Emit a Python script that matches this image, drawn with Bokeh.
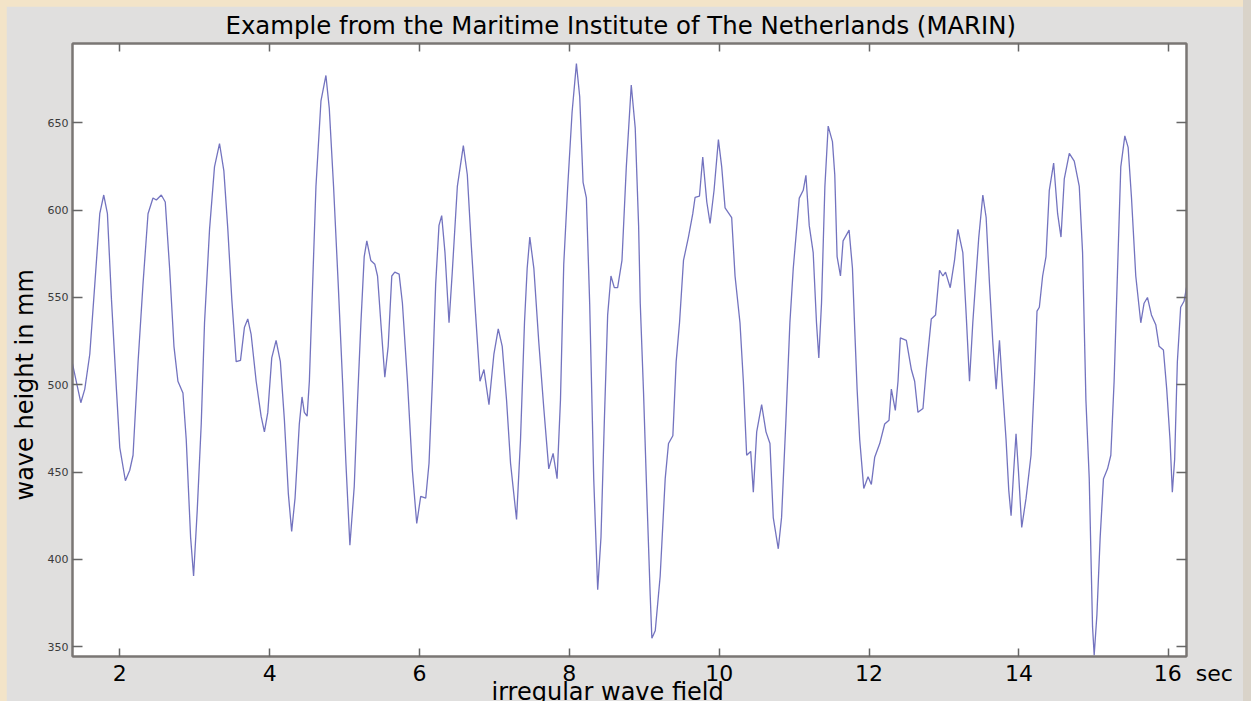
from bokeh.plotting import figure
from bokeh.layouts import column
from bokeh.models import LinearAxis, FixedTicker, Range1d, ColumnDataSource, Title
from bokeh.embed import file_html
from bokeh.resources import INLINE

# ---- data ----
time_s = [
    1.369, 1.480, 1.533, 1.600, 1.667, 1.733, 1.786, 1.835, 1.889, 1.955,
    2.000, 2.075, 2.133, 2.177, 2.244, 2.310, 2.377, 2.443, 2.488, 2.554,
    2.607, 2.665, 2.723, 2.776, 2.843, 2.887, 2.945, 2.985, 3.034, 3.087,
    3.131, 3.198, 3.264, 3.331, 3.389, 3.442, 3.495, 3.553, 3.611, 3.664,
    3.708, 3.753, 3.820, 3.886, 3.930, 3.975, 4.028, 4.086, 4.143, 4.197,
    4.250, 4.294, 4.339, 4.396, 4.432, 4.463, 4.500, 4.530, 4.574, 4.618,
    4.685, 4.751, 4.796, 4.853, 4.915, 4.973, 5.018, 5.071, 5.129, 5.173,
    5.218, 5.262, 5.297, 5.350, 5.404, 5.440, 5.484, 5.537, 5.582, 5.630,
    5.670, 5.728, 5.772, 5.839, 5.905, 5.963, 6.016, 6.083, 6.127, 6.172,
    6.216, 6.260, 6.296, 6.340, 6.394, 6.438, 6.505, 6.585, 6.638, 6.691,
    6.749, 6.807, 6.860, 6.927, 6.993, 7.051, 7.104, 7.162, 7.215, 7.295,
    7.348, 7.401, 7.437, 7.472, 7.526, 7.592, 7.659, 7.725, 7.783, 7.836,
    7.881, 7.925, 7.978, 8.036, 8.094, 8.138, 8.183, 8.227, 8.271, 8.325,
    8.378, 8.422, 8.467, 8.511, 8.555, 8.600, 8.644, 8.702, 8.760, 8.826,
    8.879, 8.924, 8.946, 8.990, 9.035, 9.079, 9.101, 9.146, 9.212, 9.279,
    9.323, 9.381, 9.425, 9.470, 9.523, 9.589, 9.647, 9.678, 9.736, 9.780,
    9.834, 9.878, 9.931, 9.989, 10.033, 10.078, 10.166, 10.211, 10.277, 10.322,
    10.366, 10.420, 10.455, 10.500, 10.566, 10.624, 10.677, 10.721, 10.788, 10.832,
    10.890, 10.943, 10.988, 11.068, 11.121, 11.157, 11.201, 11.254, 11.298, 11.329,
    11.365, 11.410, 11.454, 11.511, 11.542, 11.573, 11.618, 11.653, 11.733, 11.778,
    11.809, 11.840, 11.875, 11.929, 11.986, 12.030, 12.075, 12.142, 12.208, 12.266,
    12.297, 12.350, 12.386, 12.417, 12.497, 12.564, 12.608, 12.652, 12.719, 12.763,
    12.830, 12.887, 12.940, 12.985, 13.020, 13.083, 13.140, 13.185, 13.251, 13.296,
    13.340, 13.384, 13.420, 13.464, 13.518, 13.562, 13.607, 13.651, 13.696, 13.740,
    13.775, 13.828, 13.864, 13.895, 13.930, 13.961, 13.993, 14.037, 14.095, 14.161,
    14.206, 14.241, 14.272, 14.316, 14.361, 14.405, 14.463, 14.516, 14.561, 14.605,
    14.672, 14.738, 14.805, 14.849, 14.894, 14.938, 14.982, 15.004, 15.040, 15.084,
    15.128, 15.182, 15.226, 15.270, 15.315, 15.359, 15.413, 15.457, 15.502, 15.559,
    15.626, 15.670, 15.715, 15.768, 15.826, 15.870, 15.928, 15.972, 16.016, 16.047,
    16.078, 16.114, 16.158, 16.203, 16.236,
]
height_mm = [
    512.0, 489.7, 497.5, 517.6, 557.8, 598.0, 608.7, 598.0, 548.9, 497.5,
    464.0, 445.0, 451.0, 459.6, 513.0, 557.8, 598.0, 607.0, 605.8, 608.7,
    604.7, 566.7, 522.0, 502.0, 495.3, 468.5, 412.7, 390.4, 428.3, 477.5,
    535.5, 589.0, 624.8, 638.2, 622.5, 589.0, 548.9, 513.2, 514.0, 533.0,
    537.7, 528.8, 502.0, 482.0, 473.0, 484.0, 515.4, 525.4, 513.2, 479.7,
    437.3, 416.0, 435.0, 477.5, 493.0, 484.2, 482.0, 502.0, 557.8, 613.6,
    662.7, 677.2, 658.3, 613.6, 557.8, 502.0, 455.0, 408.0, 441.7, 491.0,
    535.5, 573.4, 582.4, 571.2, 569.0, 562.3, 535.5, 504.3, 522.0, 562.3,
    564.5, 563.4, 546.7, 502.0, 450.7, 420.5, 436.0, 435.0, 455.0, 502.0,
    557.8, 591.3, 596.9, 575.7, 535.5, 565.0, 613.6, 637.0, 620.3, 580.0,
    540.0, 502.0, 508.7, 488.6, 517.6, 532.0, 522.0, 491.0, 455.0, 422.8,
    468.5, 535.5, 566.7, 584.6, 566.7, 524.3, 486.4, 451.8, 460.7, 446.2,
    491.0, 569.0, 613.6, 656.0, 684.0, 665.0, 616.0, 607.0, 546.7, 446.2,
    382.6, 412.7, 479.7, 540.0, 562.3, 555.6, 555.6, 571.2, 624.8, 671.7,
    647.0, 591.3, 546.7, 495.3, 435.0, 379.2, 354.7, 359.0, 390.4, 446.2,
    466.3, 470.8, 513.2, 535.5, 571.2, 584.6, 598.0, 607.4, 608.0, 630.4,
    604.7, 592.4, 611.4, 640.4, 624.8, 601.3, 595.8, 562.3, 535.5, 502.0,
    459.6, 461.8, 438.4, 473.0, 488.6, 473.0, 466.3, 423.9, 406.0, 424.0,
    479.7, 535.5, 566.7, 606.9, 611.4, 620.0, 591.3, 575.7, 535.5, 515.4,
    546.7, 613.6, 648.2, 639.3, 620.3, 573.4, 562.3, 582.4, 588.6, 566.7,
    531.0, 497.5, 468.5, 440.6, 447.3, 442.9, 458.5, 466.3, 477.5, 479.7,
    497.5, 485.3, 502.0, 526.8, 525.4, 508.7, 502.0, 484.2, 486.4, 508.7,
    537.7, 540.0, 565.6, 562.3, 564.5, 555.6, 571.2, 589.0, 575.7, 540.0,
    502.0, 535.5, 557.8, 584.6, 608.7, 595.8, 557.8, 524.3, 497.5, 525.4,
    502.0, 468.5, 439.5, 425.0, 450.7, 471.9, 450.7, 418.3, 435.0, 459.6,
    502.0, 542.2, 544.4, 562.3, 573.4, 611.4, 627.0, 598.0, 584.6, 618.0,
    632.6, 628.1, 613.6, 575.7, 490.8, 446.2, 361.4, 345.0, 368.0, 412.7,
    446.2, 451.8, 459.6, 502.0, 564.5, 624.8, 642.6, 636.0, 607.0, 562.3,
    535.5, 546.7, 550.0, 540.0, 534.4, 522.0, 519.9, 497.5, 468.5, 438.4,
    457.4, 513.2, 544.4, 547.8, 555.6,
]
x_ticks = [2, 4, 6, 8, 10, 12, 14, 16]
y_ticks = [350, 400, 450, 500, 550, 600, 650]
title_text = "Example from the Maritime Institute of The Netherlands (MARIN)"
x_label = "irregular wave field"
y_label = "wave height in mm"
unit_label = "sec"

FONT = "DejaVu Sans"
FRAME_COL = "#7a7674"
PANEL_COL = "#e0dfde"
NB = "\u00a0"

src = ColumnDataSource(data=dict(t=time_s, h=height_mm))

fig = figure(
    width=1237, height=695,
    x_range=Range1d(1.369, 16.236), y_range=Range1d(344.3, 695.5),
    output_backend="svg", toolbar_location=None, title=None,
    min_border_left=63, min_border_right=57, min_border_top=37, min_border_bottom=45,
    background_fill_color="white", border_fill_color=PANEL_COL,
    outline_line_color=FRAME_COL, outline_line_width=2,
)
fig.xgrid.visible = False
fig.ygrid.visible = False

fig.line("t", "h", source=src, line_color="#5a5ab4", line_width=1.3, line_alpha=0.85)

def style_axis(ax, ticks, tick_in, show_labels, size="22px", color="black", standoff=4):
    ax.ticker = FixedTicker(ticks=ticks)
    ax.major_tick_in = tick_in
    ax.major_tick_out = 0
    ax.minor_tick_line_color = None
    ax.axis_line_color = FRAME_COL
    ax.axis_line_width = 2
    ax.major_tick_line_color = "#666666"
    ax.major_tick_line_width = 1.5
    ax.major_label_standoff = standoff
    ax.major_label_text_font = FONT
    ax.major_label_text_font_size = size
    ax.major_label_text_color = color if show_labels else None

style_axis(fig.xaxis[0], x_ticks, 8, True, "22px", "black", 4)
# unit "sec" sits right of the last tick label
fig.xaxis[0].major_label_overrides = {16: NB * 7 + "16" + NB * 2 + unit_label}
style_axis(fig.yaxis[0], y_ticks, 10, True, "11px", "#3a3a3a", 4)

top_ax = LinearAxis()
style_axis(top_ax, x_ticks, 8, False, "1px", standoff=0)
fig.add_layout(top_ax, "above")
right_ax = LinearAxis()
style_axis(right_ax, y_ticks, 10, False, "1px", standoff=0)
fig.add_layout(right_ax, "right")

fig.add_layout(Title(text=title_text, align="left", offset=153, standoff=3,
                     vertical_align="top", text_font=FONT, text_font_size="24.4px",
                     text_font_style="normal", text_color="black"), "above")
fig.add_layout(Title(text=x_label, align="left", offset=419, standoff=-21,
                     vertical_align="top", text_font=FONT, text_font_size="24px",
                     text_font_style="normal", text_color="black"), "below")
fig.add_layout(Title(text=y_label, align="left", offset=156, standoff=8,
                     vertical_align="top", text_font=FONT, text_font_size="24px",
                     text_font_style="normal", text_color="black"), "left")

p = column(fig, styles={
    "padding": "6px 8px 0px 6px",
    "background": "linear-gradient(90deg, #f3e4c8 0px, #f3e4c8 1243px, #d9d3c9 1243px)",
})

open("out.html", "w").write(file_html(p, INLINE))
